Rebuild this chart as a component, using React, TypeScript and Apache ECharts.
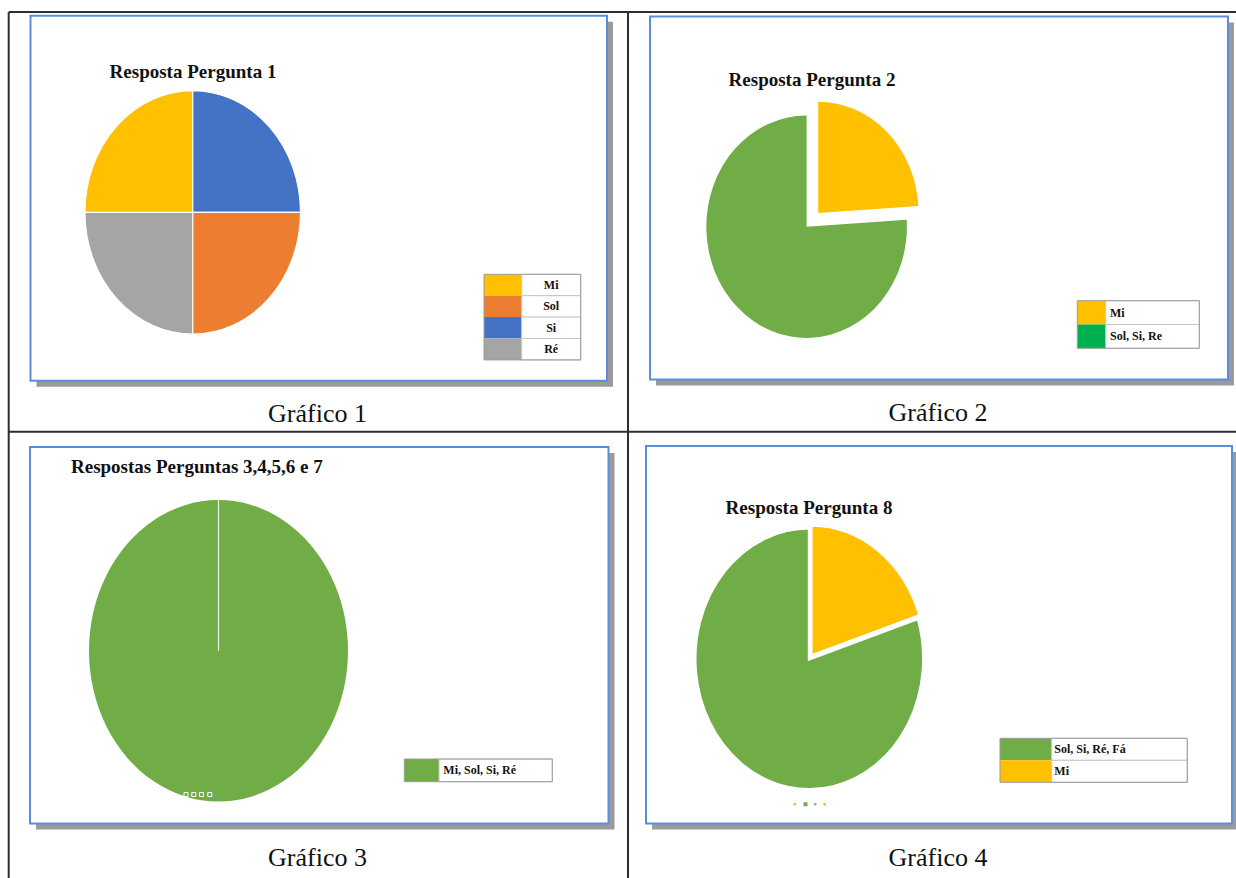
import React, { useEffect, useRef } from "react";
import * as echarts from "echarts";

// ---------------- data ----------------
const chart1Title = "Resposta Pergunta 1";
const chart1LegendNames = ["Mi", "Sol", "Si", "Ré"];
const chart1SliceNames = ["Si", "Sol", "Ré", "Mi"]; // clockwise from 12 o'clock
const chart1SliceValues = [25, 25, 25, 25];

const chart2Title = "Resposta Pergunta 2";
const chart2LegendNames = ["Mi", "Sol, Si, Re"];
const chart2SliceNames = ["Mi", "Sol, Si, Re"];
const chart2SliceValues = [24, 76];

const chart3Title = "Respostas Perguntas 3,4,5,6 e 7";
const chart3LegendNames = ["Mi, Sol, Si, Ré"];
const chart3SliceNames = ["Mi, Sol, Si, Ré"];
const chart3SliceValues = [100];

const chart4Title = "Resposta Pergunta 8";
const chart4LegendNames = ["Sol, Si, Ré, Fá", "Mi"];
const chart4SliceNames = ["Mi", "Sol, Si, Ré, Fá"];
const chart4SliceValues = [20, 80];

const captions = ["Gráfico 1", "Gráfico 2", "Gráfico 3", "Gráfico 4"];

// ---------------- styles ----------------
const YELLOW = "#FFC000";
const ORANGE = "#ED7D31";
const BLUE = "#4472C4";
const GRAY = "#A5A5A5";
const GREEN = "#70AD47";
const LEGEND_GREEN = "#00B050";
const FRAME_BLUE = "#5A8EDB";
const SHADOW = "#9A9A9A";
const RULE = "#2E2E2E";
const FONT = '"Liberation Serif", "Times New Roman", serif';

const colors1: Record<string, string> = { Mi: YELLOW, Sol: ORANGE, Si: BLUE, "Ré": GRAY };
const colors2Pie: Record<string, string> = { Mi: YELLOW, "Sol, Si, Re": GREEN };
const colors2Legend: Record<string, string> = { Mi: YELLOW, "Sol, Si, Re": LEGEND_GREEN };
const colors3: Record<string, string> = { "Mi, Sol, Si, Ré": GREEN };
const colors4: Record<string, string> = { Mi: YELLOW, "Sol, Si, Ré, Fá": GREEN };

type PieGeo = {
  cx: number; cy: number; r: number; k: number;
  stroke: string | null; lw: number; explode: number[]; seam: boolean;
};
type LegendGeo = {
  x: number; y: number; w: number; rowH: number; swatchW: number;
  align: "center" | "left"; textX?: number;
};

const charts = [
  {
    title: chart1Title, names: chart1SliceNames, values: chart1SliceValues,
    legendNames: chart1LegendNames, pieColors: colors1, legendColors: colors1,
    caption: captions[0],
    frame: { x: 30.5, y: 15.7, w: 576.5, h: 365 },
    titlePos: { x: 193, y: 71.5, align: "center" },
    captionPos: { x: 317.5, y: 413.5 },
    pie: { cx: 192.7, cy: 212.4, r: 107.7, k: 1.13, stroke: "#ffffff", lw: 1, explode: [0, 0, 0, 0], seam: false } as PieGeo,
    legend: { x: 484, y: 274.3, w: 96.7, rowH: 21.4, swatchW: 37.7, align: "center" } as LegendGeo,
  },
  {
    title: chart2Title, names: chart2SliceNames, values: chart2SliceValues,
    legendNames: chart2LegendNames, pieColors: colors2Pie, legendColors: colors2Legend,
    caption: captions[1],
    frame: { x: 650, y: 16.5, w: 578, h: 363 },
    titlePos: { x: 812, y: 79.3, align: "center" },
    captionPos: { x: 938, y: 412 },
    pie: { cx: 806.6, cy: 226.7, r: 100.3, k: 1.109, stroke: null, lw: 0, explode: [17, 0], seam: false } as PieGeo,
    legend: { x: 1077.3, y: 300.7, w: 122, rowH: 23.8, swatchW: 28.4, align: "left", textX: 1110 } as LegendGeo,
  },
  {
    title: chart3Title, names: chart3SliceNames, values: chart3SliceValues,
    legendNames: chart3LegendNames, pieColors: colors3, legendColors: colors3,
    caption: captions[2],
    frame: { x: 30, y: 447, w: 578.5, h: 376.5 },
    titlePos: { x: 71, y: 466, align: "left" },
    captionPos: { x: 317.5, y: 857 },
    pie: { cx: 218.5, cy: 650.8, r: 129.5, k: 1.164, stroke: null, lw: 0, explode: [0], seam: true } as PieGeo,
    legend: { x: 404.3, y: 759, w: 148, rowH: 22.7, swatchW: 34.7, align: "left", textX: 443.3 } as LegendGeo,
  },
  {
    title: chart4Title, names: chart4SliceNames, values: chart4SliceValues,
    legendNames: chart4LegendNames, pieColors: colors4, legendColors: colors4,
    caption: captions[3],
    frame: { x: 646, y: 446, w: 586, h: 377.5 },
    titlePos: { x: 809, y: 507.7, align: "center" },
    captionPos: { x: 938, y: 857 },
    pie: { cx: 809.3, cy: 658.8, r: 114.3, k: 1.146, stroke: "#ffffff", lw: 3, explode: [3, 0], seam: false } as PieGeo,
    legend: { x: 1000, y: 738.3, w: 187.3, rowH: 22, swatchW: 51.7, align: "left", textX: 1054.3 } as LegendGeo,
  },
];

function pieSeries(names: string[], values: number[], colorMap: Record<string, string>, geo: PieGeo) {
  const total = values.reduce((a, b) => a + b, 0);
  const starts: number[] = [];
  let acc = 0;
  values.forEach((v) => { starts.push(acc); acc += v; });
  return {
    type: "custom",
    coordinateSystem: "none",
    silent: true,
    z: 5,
    data: values.map((v, i) => ({ name: names[i], value: v })),
    renderItem: (params: any, api: any) => {
      const i = params.dataIndex;
      const v = api.value(0);
      const a0 = -Math.PI / 2 + (starts[i] / total) * Math.PI * 2;
      const a1 = -Math.PI / 2 + ((starts[i] + v) / total) * Math.PI * 2;
      const mid = (a0 + a1) / 2;
      const ex = geo.explode[i] || 0;
      const children: any[] = [
        {
          type: "sector",
          shape: { cx: 0, cy: 0, r: geo.r, r0: 0, startAngle: a0, endAngle: a1, clockwise: true },
          style: geo.stroke
            ? { fill: colorMap[names[i]], stroke: geo.stroke, lineWidth: geo.lw }
            : { fill: colorMap[names[i]] },
        },
      ];
      if (geo.seam) {
        children.push({
          type: "line",
          shape: { x1: 0, y1: 0, x2: geo.r * Math.cos(a0), y2: geo.r * Math.sin(a0) },
          style: { stroke: "#e8f2df", lineWidth: 1.2 },
        });
      }
      return {
        type: "group",
        x: geo.cx + ex * Math.cos(mid),
        y: geo.cy + ex * Math.sin(mid) * geo.k,
        scaleY: geo.k,
        children,
      };
    },
  };
}

function legendElements(names: string[], colorMap: Record<string, string>, L: LegendGeo) {
  const els: any[] = [];
  names.forEach((n, i) => {
    const y = L.y + i * L.rowH;
    els.push({ type: "rect", z: 10, shape: { x: L.x, y, width: L.swatchW, height: L.rowH }, style: { fill: colorMap[n] } });
    els.push({
      type: "rect", z: 10,
      shape: { x: L.x + L.swatchW, y, width: L.w - L.swatchW, height: L.rowH },
      style: { fill: "#ffffff", stroke: "#c6c6c6", lineWidth: 1 },
    });
    const tx = L.align === "center" ? L.x + L.swatchW + (L.w - L.swatchW) / 2 : (L.textX as number);
    els.push({
      type: "text", z: 11, x: tx, y: y + L.rowH / 2,
      style: { text: n, font: `bold 12px ${FONT}`, fill: "#111111", textAlign: L.align, textVerticalAlign: "middle" },
    });
  });
  els.push({
    type: "rect", z: 12,
    shape: { x: L.x, y: L.y, width: L.w, height: L.rowH * names.length },
    style: { fill: "none", stroke: "#9c9c9c", lineWidth: 1 },
  });
  return els;
}

export default function App() {
  const ref = useRef<HTMLDivElement>(null);
  useEffect(() => {
    if (!ref.current) return;
    const chart = echarts.init(ref.current, undefined, { renderer: "svg" });
    const graphics: any[] = [];

    // table rules
    const rules = [
      [8.7, 12, 1236, 12],
      [8.7, 12, 8.7, 878],
      [628, 12, 628, 878],
      [8.7, 431.7, 1236, 431.7],
    ];
    rules.forEach(([x1, y1, x2, y2]) =>
      graphics.push({ type: "line", z: 1, shape: { x1, y1, x2, y2 }, style: { stroke: RULE, lineWidth: 2 } })
    );

    charts.forEach((c) => {
      const f = c.frame;
      graphics.push({ type: "rect", z: 0, shape: { x: f.x + 6, y: f.y + 6, width: f.w, height: f.h }, style: { fill: SHADOW } });
      graphics.push({
        type: "rect", z: 1, shape: { x: f.x, y: f.y, width: f.w, height: f.h },
        style: { fill: "#ffffff", stroke: FRAME_BLUE, lineWidth: 2 },
      });
      graphics.push({
        type: "text", z: 10, x: c.titlePos.x, y: c.titlePos.y,
        style: { text: c.title, font: `bold 19px ${FONT}`, fill: "#111111", textAlign: c.titlePos.align, textVerticalAlign: "middle" },
      });
      graphics.push({
        type: "text", z: 10, x: c.captionPos.x, y: c.captionPos.y,
        style: { text: c.caption, font: `26px ${FONT}`, fill: "#111111", textAlign: "center", textVerticalAlign: "middle" },
      });
      graphics.push(...legendElements(c.legendNames, c.legendColors, c.legend));
    });

    // small handle marks seen under pies 3 and 4
    [184, 191.8, 199.5, 207.8].forEach((x) =>
      graphics.push({ type: "rect", z: 10, shape: { x, y: 792.5, width: 4, height: 4 }, style: { fill: "none", stroke: "#ffffff", lineWidth: 1 } })
    );
    const marks = [
      { x: 793.5, s: 2.5, c: YELLOW },
      { x: 803.5, s: 4, c: GREEN },
      { x: 814, s: 2.5, c: GRAY },
      { x: 823.5, s: 2.5, c: YELLOW },
    ];
    marks.forEach((m) =>
      graphics.push({ type: "rect", z: 10, shape: { x: m.x, y: 804.3 - m.s / 2, width: m.s, height: m.s }, style: { fill: m.c } })
    );

    chart.setOption({
      animation: false,
      backgroundColor: "#ffffff",
      graphic: { elements: graphics },
      series: charts.map((c) => pieSeries(c.names, c.values, c.pieColors, c.pie)),
    });
    return () => chart.dispose();
  }, []);
  return (
    <div
      ref={ref}
      style={{ position: "absolute", left: 0, top: 0, width: 1236, height: 878 }}
    />
  );
}
